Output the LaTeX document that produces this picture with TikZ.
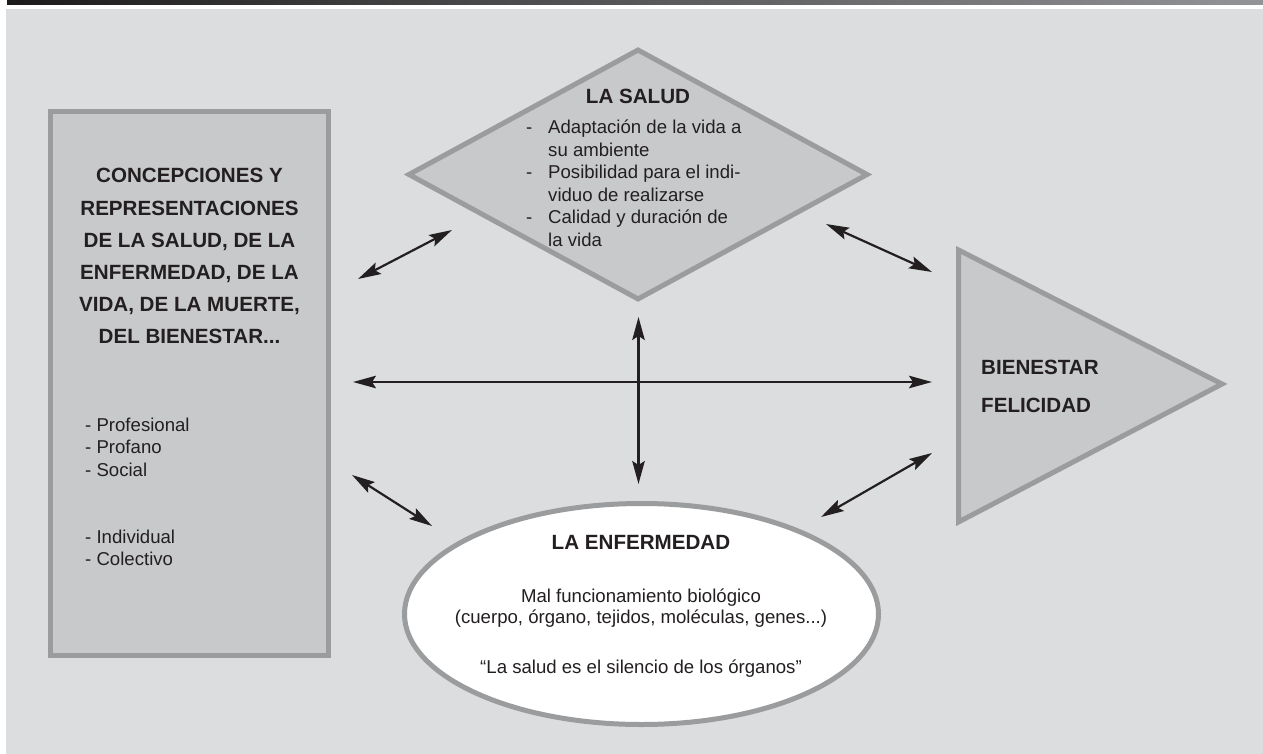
\documentclass[tikz,border=0pt]{standalone}
\usepackage{fontspec}
\setmainfont{Liberation Sans}
\usetikzlibrary{arrows.meta,shapes.geometric}
\definecolor{bgc}{HTML}{DCDDDF}
\definecolor{fillc}{HTML}{C8C9CB}
\definecolor{edgec}{HTML}{9B9C9E}
\definecolor{inkc}{HTML}{231F20}
\definecolor{barl}{HTML}{1C1A1B}
\definecolor{barr}{HTML}{939497}
\newcommand\mydots{...}
\begin{document}
\begin{tikzpicture}[x=1pt,y=-1pt,
  shapeb/.style={draw=edgec,fill=fillc,line width=5pt,line join=miter},
  conn/.style={draw=inkc,line width=2.2pt,{Stealth[length=23pt,width=12.5pt,inset=4pt]}-{Stealth[length=23pt,width=12.5pt,inset=4pt]}},
  boldtxt/.style={font=\fontsize{20.6}{24}\selectfont\bfseries,text=inkc,inner sep=0pt},
  regtxt/.style={font=\fontsize{18.6}{22}\selectfont,text=inkc,inner sep=0pt}]
\useasboundingbox (0,0) rectangle (1263,754);
\fill[white] (0,0) rectangle (1263,754);
\shade[left color=barl,right color=barr] (7,0) rectangle (1263,4.8);
\fill[bgc] (6,9) rectangle (1263,754);

% shapes
\node[shapeb,rectangle,minimum width=278pt,minimum height=544pt,inner sep=0pt] (conc) at (189.5,383.5) {};
\node[shapeb,diamond,minimum width=460pt,minimum height=251pt,inner sep=0pt] (salud) at (638,174.5) {};
\node[shapeb,fill=white,ellipse,minimum width=474pt,minimum height=221pt,inner sep=0pt] (enf) at (641.5,614) {};
\draw[shapeb] (958.5,250) coordinate (t1) -- (1222,384) coordinate (t2) -- (958.5,522) coordinate (t3) -- cycle;

% rectangle texts
\foreach \t [count=\i] in {{CONCEPCIONES Y}, {REPRESENTACIONES}, {DE LA SALUD, DE LA}, {ENFERMEDAD, DE LA}, {VIDA, DE LA MUERTE,}, {DEL BIENESTAR\mydots}}
  \node[boldtxt,anchor=base] (ct\i) at (189.5,{183+32*(\i-1)}) {\t};
\foreach \t/\yy [count=\i] in {Profesional/431, Profano/453.5, Social/476, Individual/543, Colectivo/565.5}
  \node[regtxt,anchor=base west] (cl\i) at (85,\yy) {- \t};

% diamond texts
\node[boldtxt,anchor=base] (sh) at (638,104) {LA SALUD};
\foreach \t/\d [count=\i] in {Adaptación de la vida a/-, su ambiente/, Posibilidad para el indi-/-, viduo de realizarse/, Calidad y duración de/-, la vida/}
  {\node[regtxt,anchor=base west] (sl\i) at (548,{134+22.4*(\i-1)}) {\t};
   \node[regtxt,anchor=base west] (sd\i) at (526,{134+22.4*(\i-1)}) {\d};}

% triangle texts
\node[boldtxt,anchor=base west] (b1) at (981,374.5) {BIENESTAR};
\node[boldtxt,anchor=base west] (b2) at (981,412.5) {FELICIDAD};

% ellipse texts
\node[boldtxt,anchor=base] (eh) at (641,549.5) {LA ENFERMEDAD};
\node[regtxt,anchor=base] (e1) at (641,602) {Mal funcionamiento biológico};
\node[regtxt,anchor=base] (e2) at (641,623.5) {(cuerpo, órgano, tejidos, moléculas, genes\mydots)};
\node[regtxt,anchor=base] (e3) at (641,673.5) {“La salud es el silencio de los órganos”};

% connectors
\coordinate (ula) at (358,279);  \coordinate (ulb) at (452,230);
\coordinate (ura) at (826,224);  \coordinate (urb) at (932,272);
\coordinate (va)  at (638.5,317); \coordinate (vb) at (638.5,484);
\coordinate (ha)  at (353,382);  \coordinate (hb) at (932,382);
\coordinate (lla) at (352,475);  \coordinate (llb) at (432,526);
\coordinate (lra) at (821,517);  \coordinate (lrb) at (932,453);
\draw[conn] (ula) -- (ulb);
\draw[conn] (ura) -- (urb);
\draw[conn] (va) -- (vb);
\draw[conn] (ha) -- (hb);
\draw[conn] (lla) -- (llb);
\draw[conn] (lra) -- (lrb);
\end{tikzpicture}
\end{document}
